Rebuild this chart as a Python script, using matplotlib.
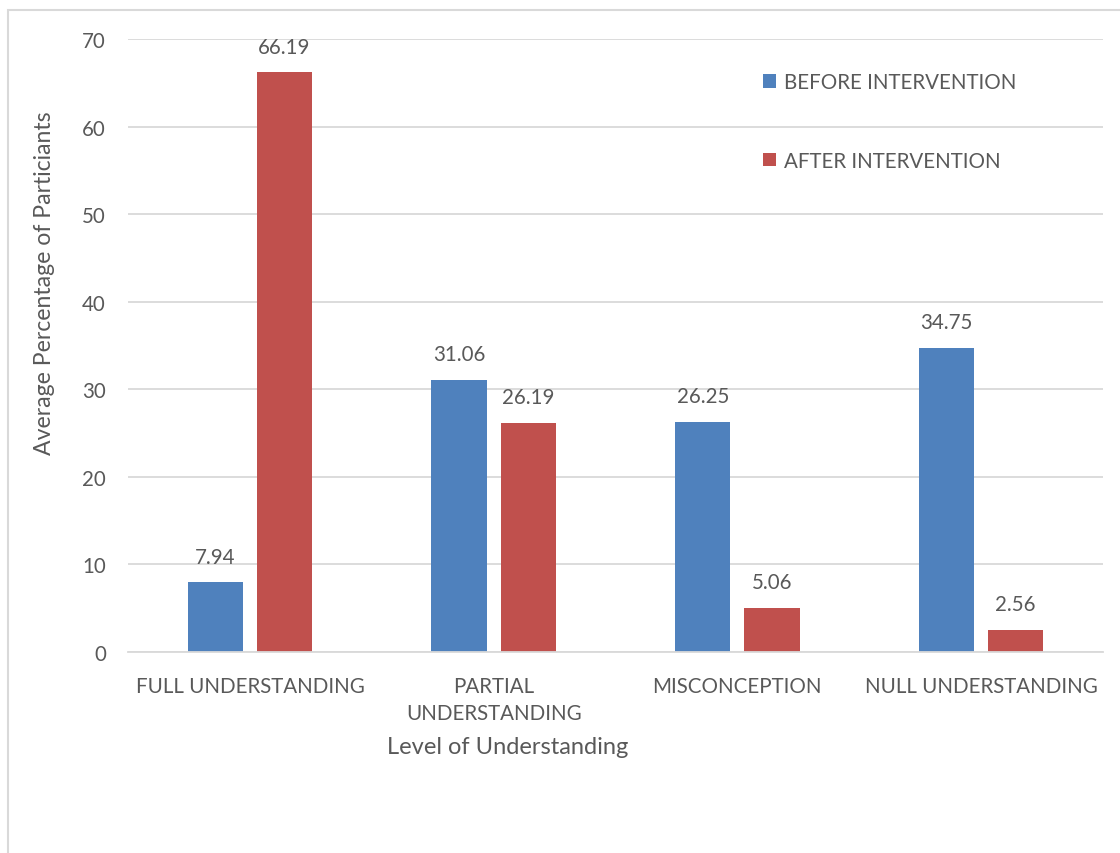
import numpy as np
import matplotlib.pyplot as plt
from matplotlib.patches import Rectangle

# Datos
niveles = ['FULL UNDERSTANDING', 'PARTIAL\nUNDERSTANDING', 'MISCONCEPTION', 'NULL UNDERSTANDING']
antes = [7.94, 31.06, 26.25, 34.75]
despues = [66.19, 26.19, 5.06, 2.56]
series = ['BEFORE INTERVENTION', 'AFTER INTERVENTION']

azul = '#4F81BD'
rojo = '#C0504D'
gris_texto = '#595959'

plt.rcParams['font.family'] = ['Lato', 'DejaVu Sans']

fig = plt.figure(figsize=(11.2, 8.54), dpi=100)
ax = fig.add_axes([0.1143, 0.2354, 0.8705, 0.7178])

x = np.arange(len(niveles))
ancho = 0.226
b1 = ax.bar(x - 0.142, antes, ancho, color=azul, label=series[0], zorder=2)
b2 = ax.bar(x + 0.142, despues, ancho, color=rojo, label=series[1], zorder=2)

# Etiquetas de valor sobre cada barra
for barras in (b1, b2):
    for b in barras:
        ax.annotate(f'{b.get_height():.2f}',
                    (b.get_x() + b.get_width() / 2, b.get_height()),
                    xytext=(0, 18.5), textcoords='offset points',
                    ha='center', va='center', fontsize=14.8, color=gris_texto)

ax.set_xlim(-0.5, 3.5)
ax.set_ylim(0, 70)
ax.set_yticks(range(0, 71, 10))
ax.set_xticks(x)
ax.set_xticklabels(niveles, multialignment='center', linespacing=1.45)
ax.tick_params(axis='both', length=0, labelsize=14.8, labelcolor=gris_texto)
ax.tick_params(axis='y', pad=16)
ax.tick_params(axis='x', pad=17)
ax.yaxis.grid(True, color='#D9D9D9', linewidth=1.3, zorder=0)
ax.set_axisbelow(True)
for lado in ['top', 'right', 'left']:
    ax.spines[lado].set_visible(False)
ax.spines['bottom'].set_color('#D9D9D9')
ax.spines['bottom'].set_linewidth(1.3)

fig.text(45 / 1120, 1 - 283 / 854, 'Average Percentage of Particiants', rotation=90,
         ha='center', va='center', fontsize=16.6, color=gris_texto)
fig.text(508 / 1120, 1 - 748 / 854, 'Level of Understanding',
         ha='center', va='center', fontsize=17, color=gris_texto)

leg = ax.legend(loc='upper left', bbox_to_anchor=(755 / 1120, 1 - 65 / 854),
                bbox_transform=fig.transFigure, frameon=False, fontsize=14.8,
                handlelength=0.62, handleheight=0.62, handletextpad=0.4,
                labelspacing=2.85, borderaxespad=0)
for t in leg.get_texts():
    t.set_color(gris_texto)

# Borde del área del gráfico
fig.patches.append(Rectangle((8 / 1120, -0.1), 1.2, 0.1 + 1 - 11 / 854,
                             transform=fig.transFigure, fill=False,
                             edgecolor='#D9D9D9', linewidth=1.5))

plt.savefig('out.png', dpi=100)
